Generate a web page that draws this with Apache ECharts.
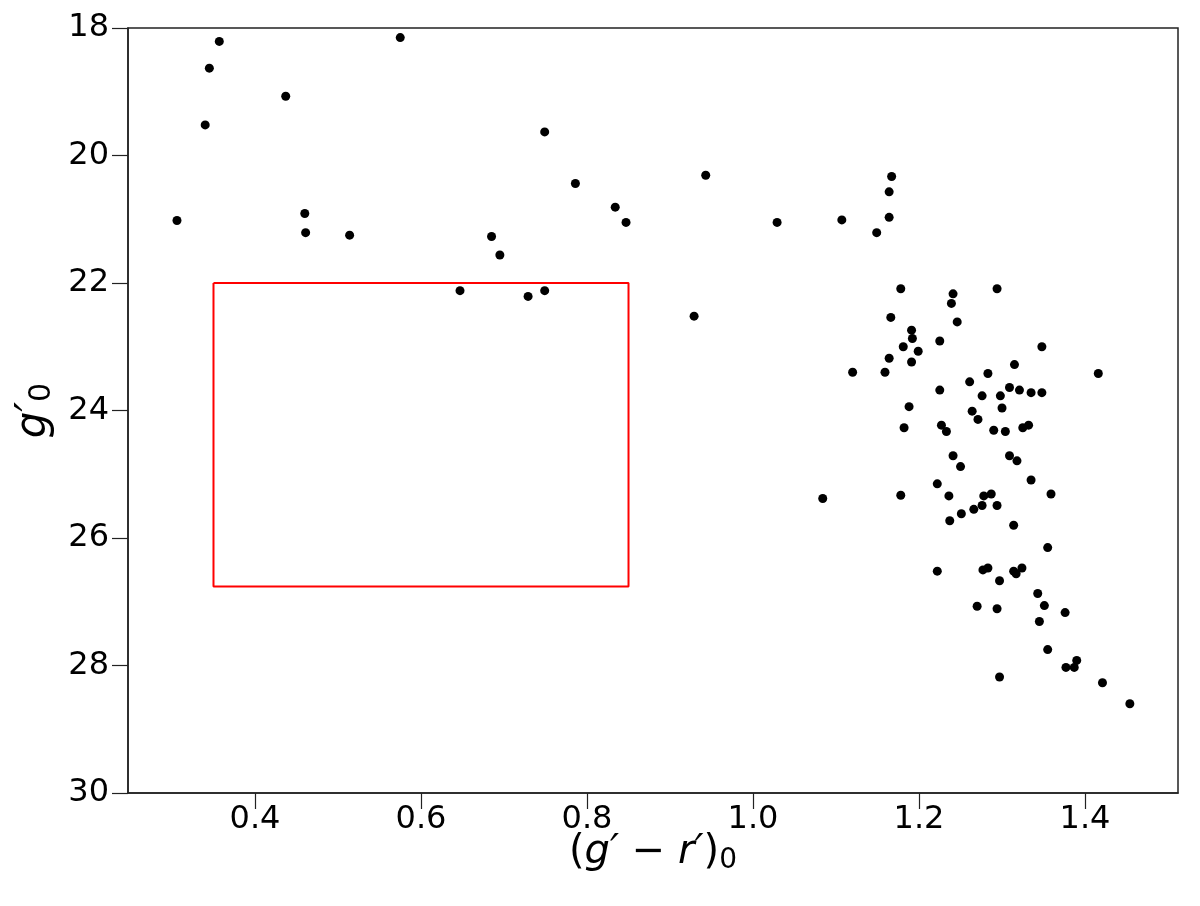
<!DOCTYPE html>
<html>
<head>
<meta charset="utf-8">
<script src="https://cdn.jsdelivr.net/npm/echarts@6/dist/echarts.min.js"></script>
<style>html,body{margin:0;padding:0;background:#fff;}#chart{width:1200px;height:906px;}</style>
</head>
<body>
<div id="chart"></div>
<script>
// colour index (g'-r')0
const colorIndex = [0.357,0.345,0.437,0.340,0.575,0.306,0.460,0.461,0.514,0.685,0.695,0.749,0.786,0.834,0.847,0.943,1.029,1.107,1.149,1.164,1.164,1.167,0.729,0.749,0.647,0.929,1.178,1.241,1.239,1.294,1.166,1.246,1.191,1.192,1.225,1.181,1.199,1.348,1.164,1.191,1.120,1.159,1.283,1.315,1.416,1.261,1.225,1.309,1.321,1.335,1.348,1.276,1.298,1.300,1.188,1.264,1.271,1.182,1.227,1.233,1.290,1.304,1.325,1.332,1.241,1.250,1.309,1.318,1.335,1.222,1.178,1.084,1.236,1.278,1.287,1.359,1.276,1.294,1.266,1.251,1.237,1.314,1.355,1.222,1.277,1.283,1.314,1.317,1.324,1.297,1.343,1.351,1.376,1.270,1.294,1.345,1.355,1.390,1.377,1.387,1.297,1.421,1.454];
// magnitude g'0
const gMag = [18.21,18.63,19.07,19.52,18.15,21.02,20.91,21.21,21.25,21.27,21.56,19.63,20.44,20.81,21.05,20.31,21.05,21.01,21.21,20.97,20.57,20.33,22.21,22.12,22.12,22.52,22.09,22.17,22.32,22.09,22.54,22.61,22.74,22.87,22.91,23.00,23.07,23.00,23.18,23.24,23.40,23.40,23.42,23.28,23.42,23.55,23.68,23.64,23.68,23.72,23.72,23.77,23.77,23.96,23.94,24.01,24.14,24.27,24.23,24.33,24.31,24.33,24.27,24.23,24.71,24.88,24.71,24.79,25.09,25.15,25.33,25.38,25.34,25.34,25.31,25.31,25.49,25.49,25.55,25.62,25.73,25.80,26.15,26.52,26.50,26.47,26.52,26.56,26.47,26.67,26.87,27.06,27.17,27.07,27.11,27.31,27.75,27.92,28.03,28.03,28.18,28.27,28.60];
// selection box corners
const boxX = [0.35, 0.85, 0.85, 0.35, 0.35];
const boxY = [22.0, 22.0, 26.76, 26.76, 22.0];
// tick labels
const xTicks = [0.4, 0.6, 0.8, 1.0, 1.2, 1.4];
const yTicks = [18, 20, 22, 24, 26, 28, 30];

const points = colorIndex.map((x, i) => [x, gMag[i]]);
const box = boxX.map((x, i) => [x, boxY[i]]);

const chart = echarts.init(document.getElementById('chart'), null, {renderer: 'canvas'});
const FONT = 'DejaVu Sans';
const axisLineStyle = {color: '#222', width: 1.5};
chart.setOption({
  animation: false,
  backgroundColor: '#fff',
  grid: {left: 128, top: 28, right: 22, bottom: 113, show: true, borderColor: '#222', borderWidth: 1.5, backgroundColor: 'transparent'},
  xAxis: {
    type: 'value', min: 0.247, max: 1.512,
    splitLine: {show: false},
    axisLine: {show: true, lineStyle: axisLineStyle},
    axisTick: {show: true, length: 16, inside: false, customValues: xTicks, lineStyle: {color: '#222', width: 1.2}},
    axisLabel: {customValues: xTicks, formatter: v => v.toFixed(1), fontFamily: FONT, fontSize: 32, color: '#000', margin: 11},
    name: '{p|(}{i|g′ − r′}{p|)}{s|0}',
    nameLocation: 'middle', nameGap: 38, nameMoveOverlap: false,
    nameTextStyle: {
      rich: {
        p: {fontFamily: FONT, fontSize: 40, color: '#000'},
        i: {fontFamily: FONT, fontStyle: 'italic', fontSize: 40, color: '#000'},
        s: {fontFamily: FONT, fontSize: 28, color: '#000', verticalAlign: 'bottom', padding: [16, 0, 0, 0]}
      }
    }
  },
  yAxis: {
    type: 'value', min: 18, max: 30, interval: 2, inverse: true,
    splitLine: {show: false},
    axisLine: {show: true, lineStyle: axisLineStyle},
    axisTick: {show: true, length: 16, inside: false, lineStyle: {color: '#222', width: 1.2}},
    axisLabel: {fontFamily: FONT, fontSize: 32, color: '#000', margin: 19},
    name: '{i|g′}{s|0}',
    nameLocation: 'middle', nameGap: 64, nameRotate: 90,
    nameTextStyle: {
      rich: {
        i: {fontFamily: FONT, fontStyle: 'italic', fontSize: 42, color: '#000'},
        s: {fontFamily: FONT, fontSize: 30, color: '#000', verticalAlign: 'bottom', padding: [16, 0, 0, 0]}
      }
    }
  },
  series: [
    {
      type: 'line', data: box, symbol: 'none', silent: true,
      lineStyle: {color: '#ff0000', width: 2}, z: 1
    },
    {
      type: 'scatter', data: points, symbol: 'circle', symbolSize: 9,
      itemStyle: {color: '#000', opacity: 1}, z: 3
    }
  ]
});
</script>
</body>
</html>
